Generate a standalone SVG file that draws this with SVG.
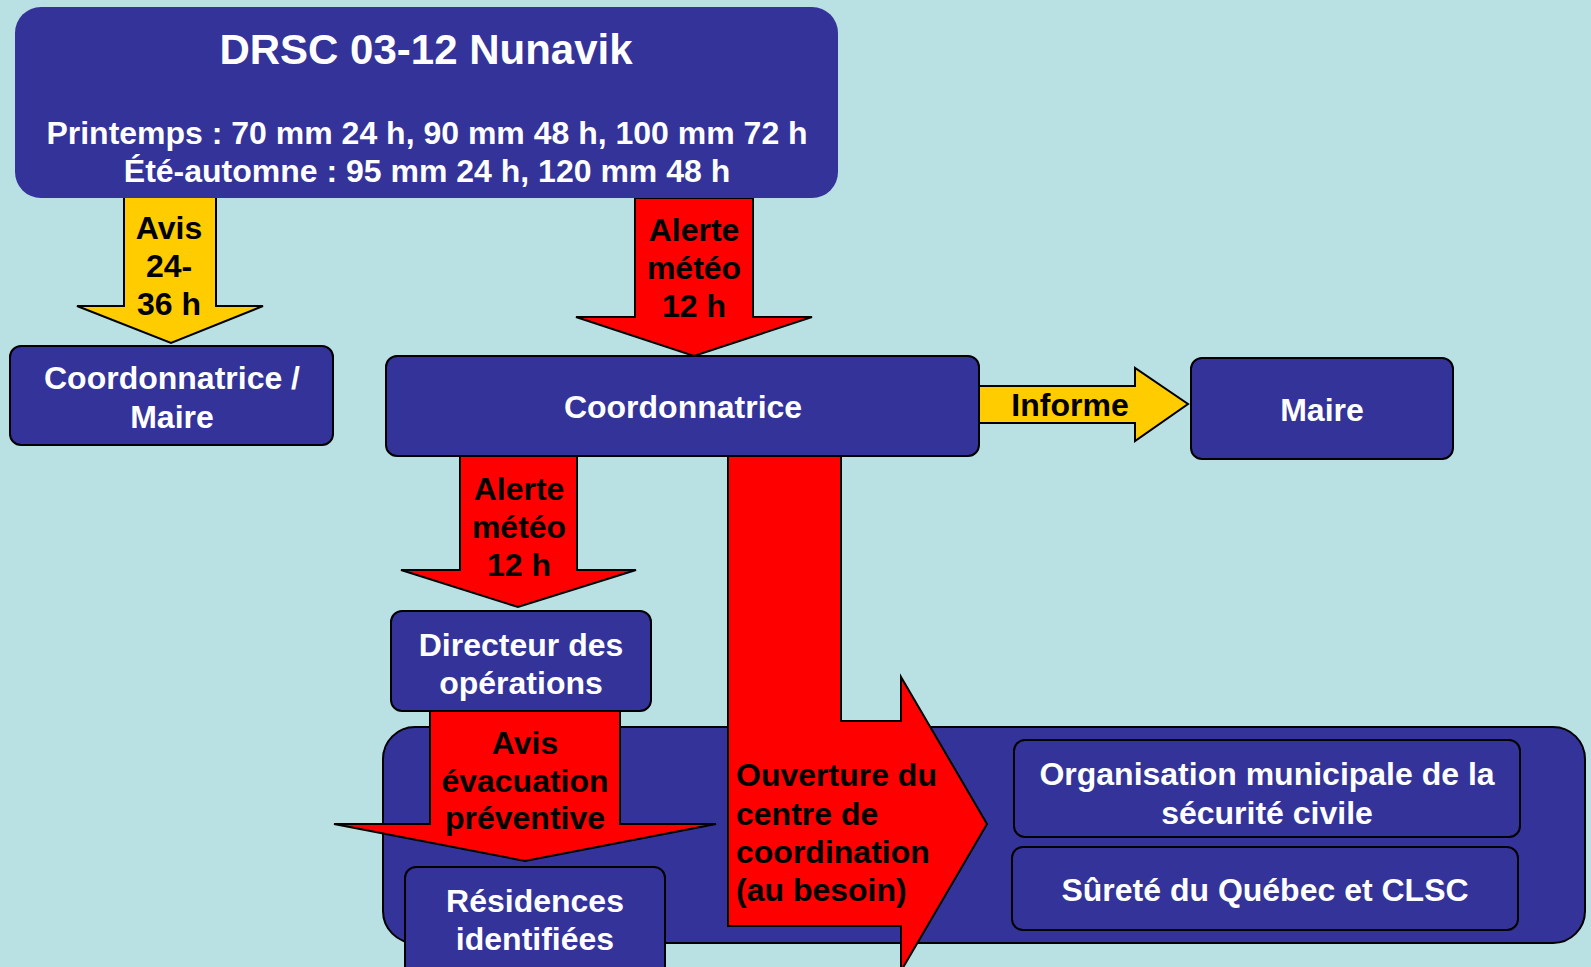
<svg xmlns="http://www.w3.org/2000/svg" width="1591" height="967" viewBox="0 0 1591 967">
<style>
text{font-family:"Liberation Sans",Arial,Helvetica,sans-serif;font-weight:bold;font-size:32px;text-anchor:middle}
.node{fill:#333399;stroke:#000;stroke-width:2}
.wt{fill:#fff}
.bt{fill:#000}
.red{fill:#FF0000;stroke:#000;stroke-width:2;stroke-linejoin:miter}
.yel{fill:#FFCC00;stroke:#000;stroke-width:2;stroke-linejoin:miter}
.left{text-anchor:start}
</style>
<rect x="0" y="0" width="1591" height="967" fill="#B9E0E2"/>

<g id="zone-municipale">
<rect x="383" y="727" width="1202" height="216" rx="32" ry="32" class="node"/>
</g>

<g id="connectors">
<g id="arrow-avis-24-36">
<polygon class="yel" points="124,196 216,196 216,306 263,306 171,343 77,306 124,306"/>
<text class="bt" x="169" y="239">Avis</text>
<text class="bt" x="169" y="277">24-</text>
<text class="bt" x="169" y="315">36 h</text>
</g>
<g id="arrow-alerte-1">
<polygon class="red" points="635,198 753,198 753,317 812,317 694,356 576,317 635,317"/>
<text class="bt" x="694" y="241">Alerte</text>
<text class="bt" x="694" y="279">météo</text>
<text class="bt" x="694" y="317">12 h</text>
</g>
<g id="arrow-informe">
<polygon class="yel" points="978,386 1135,386 1135,368 1188,404 1135,441 1135,423 978,423"/>
<text class="bt" x="1070" y="416">Informe</text>
</g>
<g id="arrow-alerte-2">
<polygon class="red" points="460,456 577,456 577,570 636,570 518,607 401,570 460,570"/>
<text class="bt" x="519" y="500">Alerte</text>
<text class="bt" x="519" y="538">météo</text>
<text class="bt" x="519" y="576">12 h</text>
</g>
<g id="arrow-evacuation">
<polygon class="red" points="430,711 620,711 620,824 716,824 525,861 334,824 430,824"/>
<text class="bt" x="525" y="754">Avis</text>
<text class="bt" x="525" y="792">évacuation</text>
<text class="bt" x="525" y="829">préventive</text>
</g>
<g id="arrow-ouverture">
<polygon class="red" points="728,456 841,456 841,721 901,721 901,677 987,824 901,971 901,926 728,926"/>
<text class="bt left" x="736" y="786">Ouverture du</text>
<text class="bt left" x="736" y="825">centre de</text>
<text class="bt left" x="736" y="863">coordination</text>
<text class="bt left" x="736" y="901">(au besoin)</text>
</g>
</g>

<g id="drsc">
<rect x="15" y="7" width="823" height="191" rx="26" ry="26" fill="#333399"/>
<text class="wt" x="426" y="64" style="font-size:42px">DRSC 03-12 Nunavik</text>
<text class="wt" x="427" y="144">Printemps : 70 mm 24 h, 90 mm 48 h, 100 mm 72 h</text>
<text class="wt" x="427" y="182">Été-automne : 95 mm 24 h, 120 mm 48 h</text>
</g>

<g id="coord-maire">
<rect x="10" y="346" width="323" height="99" rx="11" ry="11" class="node"/>
<text class="wt" x="172" y="389">Coordonnatrice /</text>
<text class="wt" x="172" y="428">Maire</text>
</g>

<g id="coordonnatrice">
<rect x="386" y="356" width="593" height="100" rx="11" ry="11" class="node"/>
<text class="wt" x="683" y="418">Coordonnatrice</text>
</g>

<g id="maire">
<rect x="1191" y="358" width="262" height="101" rx="11" ry="11" class="node"/>
<text class="wt" x="1322" y="421">Maire</text>
</g>

<g id="directeur">
<rect x="391" y="611" width="260" height="100" rx="11" ry="11" class="node"/>
<text class="wt" x="521" y="656">Directeur des</text>
<text class="wt" x="521" y="694">opérations</text>
</g>

<g id="residences">
<rect x="405" y="867" width="260" height="110" rx="11" ry="11" class="node"/>
<text class="wt" x="535" y="912">Résidences</text>
<text class="wt" x="535" y="950">identifiées</text>
</g>

<g id="omsc">
<rect x="1014" y="740" width="506" height="97" rx="11" ry="11" class="node"/>
<text class="wt" x="1267" y="785">Organisation municipale de la</text>
<text class="wt" x="1267" y="824">sécurité civile</text>
</g>

<g id="surete">
<rect x="1012" y="847" width="506" height="83" rx="11" ry="11" class="node"/>
<text class="wt" x="1265" y="901">Sûreté du Québec et CLSC</text>
</g>
</svg>
